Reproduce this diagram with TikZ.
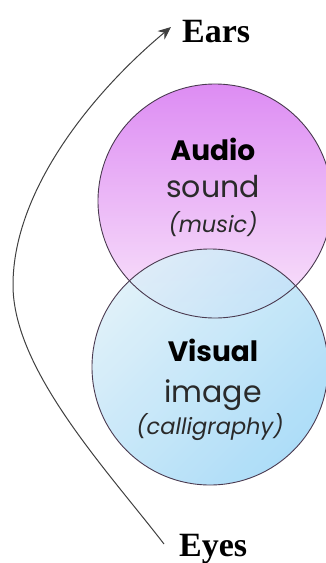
\documentclass[tikz,border=0pt]{standalone}
\usepackage{fontspec}
\setmainfont{Liberation Serif}
\newfontfamily\gothic{Poppins}
\usetikzlibrary{arrows.meta,shadings}
\definecolor{rimcol}{HTML}{4A3A50}
\definecolor{audiotop}{HTML}{DD8CF3}
\definecolor{audiobot}{HTML}{FAE6FB}
\definecolor{vislight}{HTML}{DCEFF8}
\definecolor{visdark}{HTML}{A4D9F7}
\definecolor{inktext}{HTML}{2A2A2A}
\tikzset{
  ring/.style={draw=rimcol, line width=0.9pt},
  headword/.style={font=\gothic\bfseries\fontsize{28}{31}\selectfont, text=black, anchor=base},
  mainword/.style={font=\gothic\fontsize{30}{33}\selectfont, text=inktext, anchor=base},
  noteword/.style={font=\gothic\itshape\fontsize{22.5}{26}\selectfont, text=inktext, anchor=base},
  sense/.style={font=\bfseries\fontsize{34}{38}\selectfont, anchor=base west, inner sep=0pt},
  flow/.style={draw=black!75, line width=1pt, -{Stealth[length=13pt,width=11pt]}}
}
\begin{document}
\begin{tikzpicture}[x=1pt,y=-1pt]
\useasboundingbox (0,0) rectangle (326,563);
\begin{scope}
\clip (0,0) rectangle (326,563);
% Audio circle
\shade[top color=audiotop, bottom color=audiobot] (215,201) circle (117);
% Visual circle, laid over the lower part of the audio circle
\shade[left color=vislight, right color=visdark, shading angle=45, fill opacity=0.9] (210,367) circle (118);
\draw[ring] (215,201) circle (117);
\draw[ring] (210,367) circle (118);
\end{scope}

\node[headword] (audio) at (213,160) {Audio};
\node[mainword] (sound) at (213,197) {sound};
\node[noteword] (music) at (213,232) {(music)};

\node[headword] (visual) at (213,361) {Visual};
\node[mainword] (image) at (213,402) {image};
\node[noteword] (calli) at (210,434) {(calligraphy)};

\node[sense] (ears) at (182,42) {Ears};
\node[sense] (eyes) at (179,556) {Eyes};

\coordinate (start) at (164,544);
\coordinate (bend) at (13,285);
\coordinate (tip) at (171,27);
\draw[flow] (start) .. controls (107,470) and (13,370) .. (bend)
  .. controls (13,190) and (93,92) .. (tip);
\end{tikzpicture}
\end{document}
